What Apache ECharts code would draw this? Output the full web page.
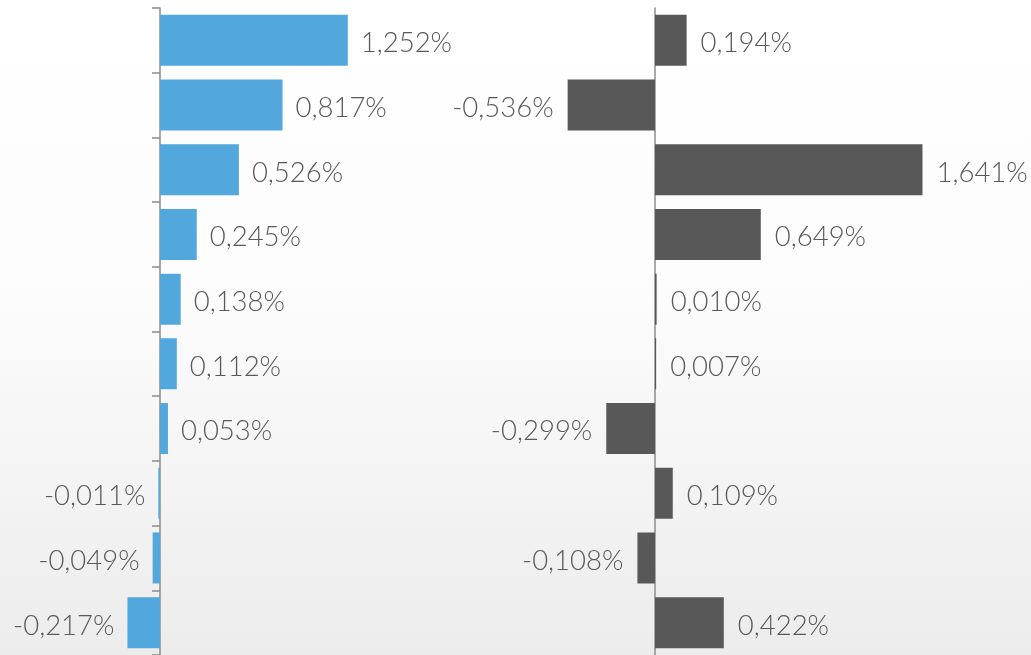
<!DOCTYPE html>
<html>
<head>
<meta charset="utf-8">
<script src="https://cdn.jsdelivr.net/npm/echarts@6/dist/echarts.min.js"></script>
<style>
html,body{margin:0;padding:0;width:1031px;height:655px;overflow:hidden;}
#c{width:1031px;height:655px;}
</style>
</head>
<body>
<div id="c"></div>
<script>
var categories = ["1","2","3","4","5","6","7","8","9","10"];
var leftValues = [1.252, 0.817, 0.526, 0.245, 0.138, 0.112, 0.053, -0.011, -0.049, -0.217];
var rightValues = [0.194, -0.536, 1.641, 0.649, 0.010, 0.007, -0.299, 0.109, -0.108, 0.422];

function fmt(v){ return v.toFixed(3).replace('.', ',') + '%'; }
var labelFont = { fontFamily: 'Lato', fontWeight: 300, fontSize: 27.5, color: '#595959' };
function mkData(vals){
  return vals.map(function(v){
    return { value: v, label: { position: v < 0 ? 'left' : 'right' } };
  });
}

var chart = echarts.init(document.getElementById('c'), null, {renderer:'canvas'});
chart.setOption({
  animation: false,
  backgroundColor: {
    type: 'linear', x: 0, y: 0, x2: 0, y2: 1,
    colorStops: [
      {offset: 0, color: '#ffffff'},
      {offset: 0.45, color: '#fcfcfc'},
      {offset: 1, color: '#ececec'}
    ]
  },
  grid: [
    {left: 10, width: 450, top: 8, height: 651, containLabel: false},
    {left: 492, width: 521.6, top: 8, height: 651, containLabel: false}
  ],
  xAxis: [
    {gridIndex: 0, type: 'value', min: -1, max: 2, show: false},
    {gridIndex: 1, type: 'value', min: -1, max: 2.2, show: false}
  ],
  yAxis: [
    {gridIndex: 0, type: 'category', data: categories, inverse: true,
     axisLine: {show: true, onZero: true, lineStyle: {color: '#8c8c8c', width: 1.5}},
     axisTick: {show: true, length: 8, lineStyle: {color: '#8c8c8c', width: 1.5}},
     axisLabel: {show: false}, splitLine: {show: false}},
    {gridIndex: 1, type: 'category', data: categories, inverse: true,
     axisLine: {show: true, onZero: true, lineStyle: {color: '#8c8c8c', width: 1.5}},
     axisTick: {show: false},
     axisLabel: {show: false}, splitLine: {show: false}}
  ],
  series: [
    {type: 'bar', xAxisIndex: 0, yAxisIndex: 0, data: mkData(leftValues), barWidth: 51,
     itemStyle: {color: '#52a7dc'},
     label: Object.assign({show: true, distance: 13, offset: [0, 3], formatter: function(p){ return fmt(p.value); }}, labelFont)},
    {type: 'bar', xAxisIndex: 1, yAxisIndex: 1, data: mkData(rightValues), barWidth: 51,
     itemStyle: {color: '#585858'},
     label: Object.assign({show: true, distance: 14, offset: [0, 3], formatter: function(p){ return fmt(p.value); }}, labelFont)}
  ]
});
</script>
</body>
</html>
